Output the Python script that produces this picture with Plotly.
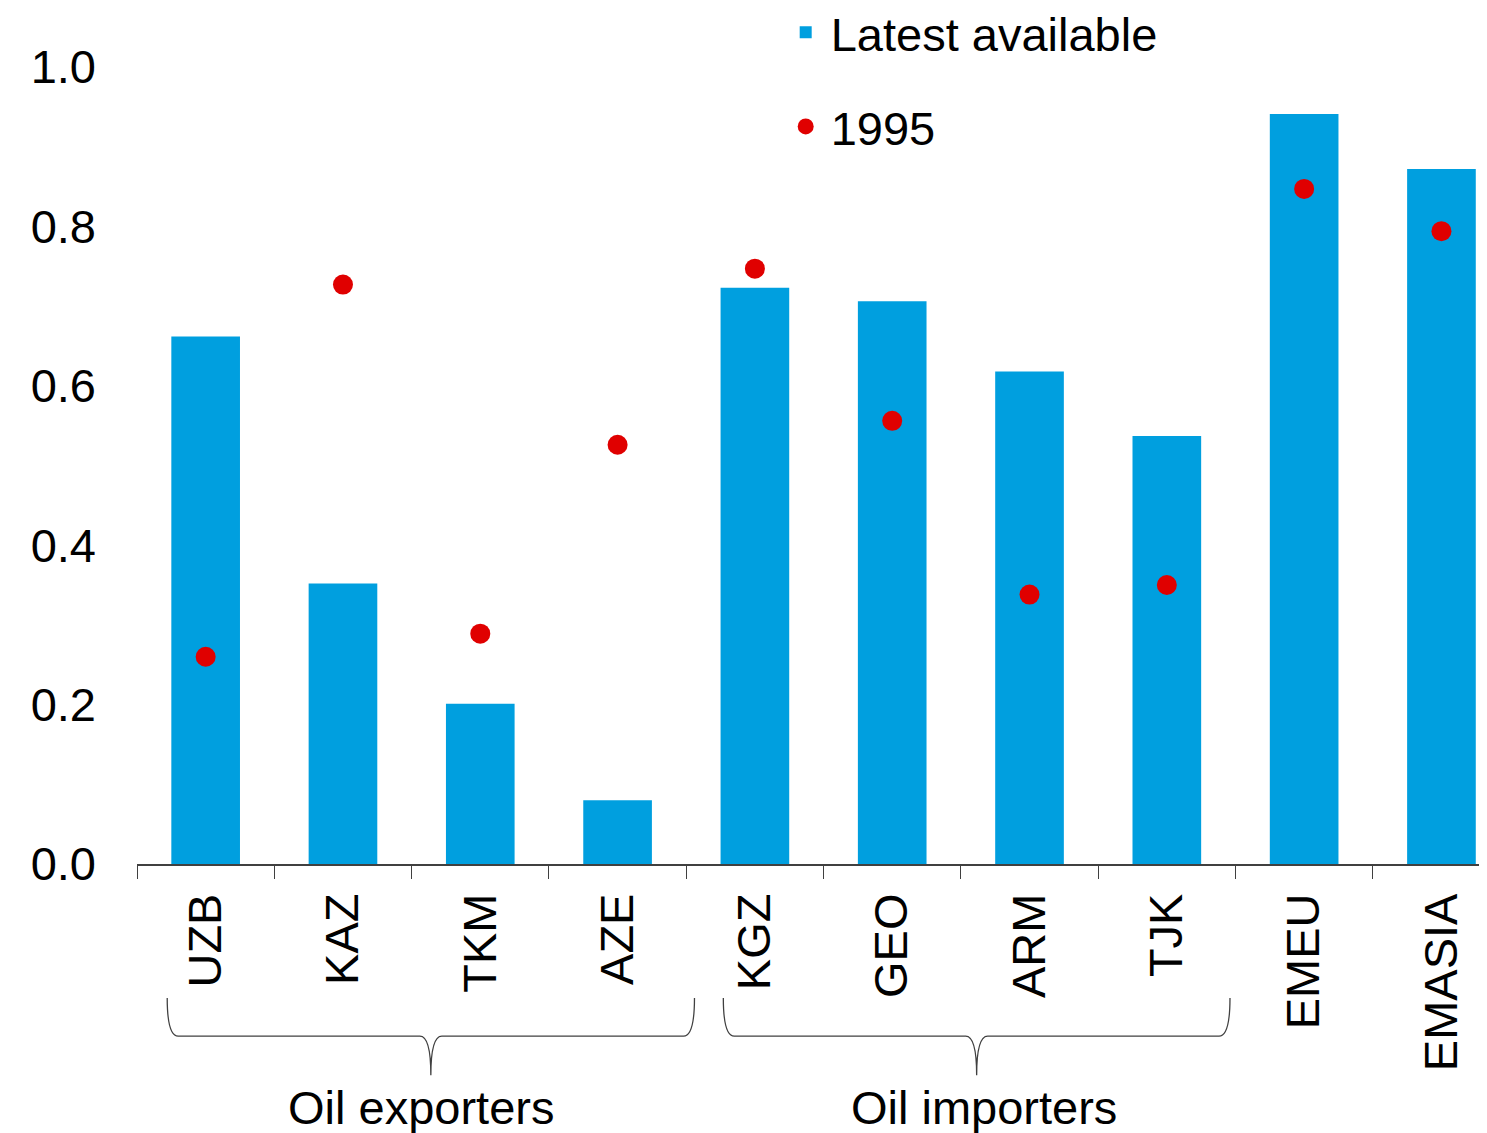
import plotly.graph_objects as go

countries = ["UZB", "KAZ", "TKM", "AZE", "KGZ", "GEO", "ARM", "TJK", "EMEU", "EMASIA"]
latest = [0.662, 0.352, 0.201, 0.080, 0.723, 0.706, 0.618, 0.537, 0.941, 0.872]
y1995 = [0.260, 0.727, 0.289, 0.526, 0.747, 0.556, 0.338, 0.350, 0.847, 0.794]
groups = [("Oil exporters", 0, 3), ("Oil importers", 4, 7)]

BLUE = "#009FDF"
RED = "#E00000"
FONT = "Liberation Sans, Arial, sans-serif"
FS = 47
# how far each brace reaches past its first/last bar, and label nudge
brace_pad = [(-0.28, 0.56, -0.07), (-0.23, 0.46, 0.05)]

fig = go.Figure()
fig.add_trace(go.Bar(x=countries, y=latest, name="Latest available",
                     marker=dict(color=BLUE, line=dict(width=0)), width=0.5,
                     legendgroup="a"))
fig.add_trace(go.Scatter(x=countries, y=y1995, name="1995", mode="markers",
                         marker=dict(color=RED, size=20), legendgroup="b"))

# curly braces under the category groups
y_top, y_mid, y_bot = -0.168, -0.216, -0.265
for (label, i0, i1), (pl, pr, nudge) in zip(groups, brace_pad):
    x0 = i0 + pl
    x1 = i1 + pr
    xc = (x0 + x1) / 2
    d = 0.08
    path = (f"M{x0},{y_top} Q{x0},{y_mid} {x0 + d},{y_mid} "
            f"L{xc - d},{y_mid} Q{xc},{y_mid} {xc},{y_bot} "
            f"Q{xc},{y_mid} {xc + d},{y_mid} "
            f"L{x1 - d},{y_mid} Q{x1},{y_mid} {x1},{y_top}")
    fig.add_shape(type="path", path=path, xref="x", yref="paper",
                  line=dict(color="#404040", width=1.3))
    fig.add_annotation(x=xc + nudge, y=-0.305, xref="x", yref="paper",
                       text=label, showarrow=False, yanchor="middle",
                       font=dict(size=FS, color="black", family=FONT))

fig.update_layout(
    width=1487, height=1133,
    margin=dict(l=129, r=0, t=59, b=277, autoexpand=False),
    paper_bgcolor="white", plot_bgcolor="white",
    font=dict(family=FONT, size=FS, color="black"),
    showlegend=True,
    legend=dict(x=0.474, y=1.09, xanchor="left", yanchor="top",
                font=dict(size=FS), tracegroupgap=30, bgcolor="rgba(0,0,0,0)",
                itemwidth=40),
    bargap=0.5,
)
fig.update_xaxes(
    type="category", range=[-0.5, 9.39], tickangle=-90, automargin=False,
    showline=True, linecolor="#404040", linewidth=1.5,
    ticks="outside", ticklen=13, tickcolor="#404040", tickwidth=1.2,
    tickson="boundaries", showgrid=False, zeroline=False,
    tickfont=dict(size=FS), ticklabelstandoff=9,
)
fig.update_yaxes(
    range=[0, 1.0], tickvals=[0, 0.2, 0.4, 0.6, 0.8, 1.0], tickformat=".1f",
    automargin=False, showgrid=False, zeroline=False, showline=False, ticks="",
    tickfont=dict(size=FS), ticklabelstandoff=40,
)

fig.write_html("out.html")
